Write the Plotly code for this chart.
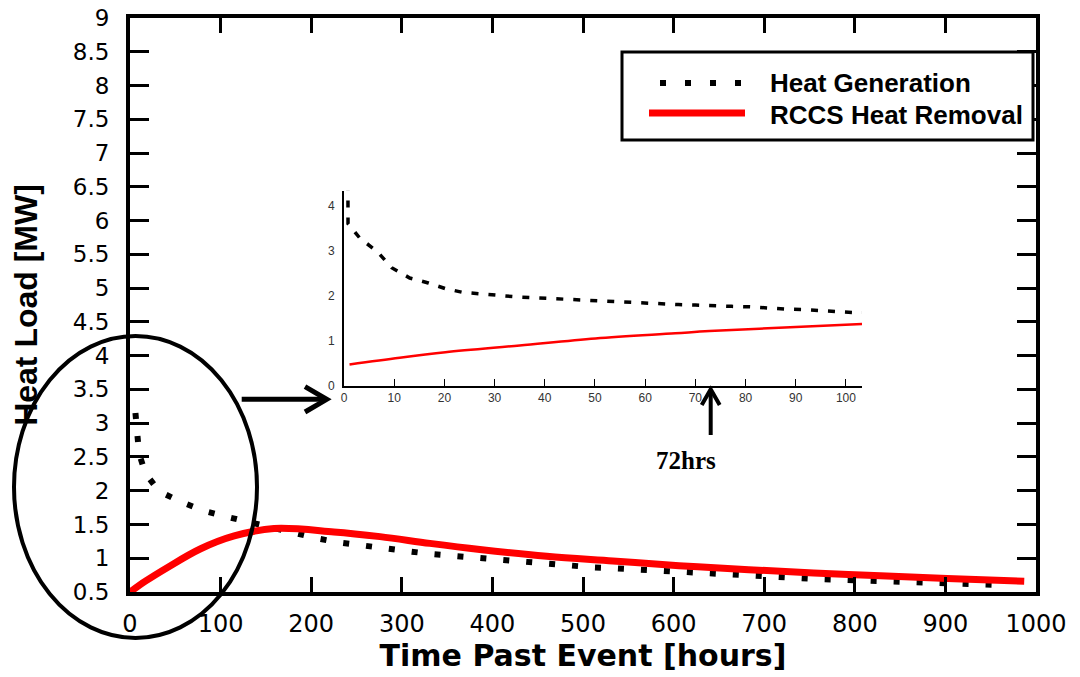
import plotly.graph_objects as go

# ---------------- data ----------------
# main chart: decay heat generation (dotted black)
hg_t = [6, 8, 10, 17, 32, 57, 82, 108, 133, 158, 183, 208, 233, 258, 284, 309,
        334, 359, 385, 410, 436, 460, 485, 511, 536, 561, 586, 611, 636, 661,
        686, 712, 737, 762, 787, 812, 838, 863, 888, 913, 939, 966]
hg_mw = [3.15, 2.85, 2.55, 2.26, 1.99, 1.83, 1.70, 1.61, 1.53, 1.45, 1.36, 1.29,
         1.23, 1.18, 1.14, 1.10, 1.06, 1.03, 1.00, 0.97, 0.94, 0.91, 0.89, 0.865,
         0.85, 0.83, 0.81, 0.79, 0.77, 0.75, 0.73, 0.72, 0.70, 0.69, 0.68, 0.67,
         0.66, 0.65, 0.64, 0.63, 0.62, 0.60]

# main chart: RCCS heat removal (red)
rr_t = [0, 17, 41, 78, 115, 159, 225, 276, 331, 386, 460, 533, 606, 683, 793, 902, 987]
rr_mw = [0.5, 0.66, 0.86, 1.14, 1.33, 1.44, 1.39, 1.32, 1.22, 1.13, 1.03, 0.96,
         0.89, 0.83, 0.76, 0.70, 0.66]

# inset chart: first ~100 hours
ins_hg_t = [0.78, 0.8, 3.2, 6.6, 9.5, 13.1, 16.8, 20.3, 23.7, 27.3, 30.8, 34.4, 38.1,
            41.6, 45.1, 48.8, 52.2, 55.7, 59.4, 62.9, 66.6, 70.0, 73.6, 77.2, 80.8,
            84.4, 88.0, 91.6, 95.0, 98.7, 102.2, 103.2]
ins_hg_mw = [4.5, 3.61, 3.28, 2.99, 2.63, 2.40, 2.29, 2.16, 2.08, 2.04, 2.01, 1.98,
             1.96, 1.94, 1.92, 1.90, 1.88, 1.86, 1.85, 1.83, 1.81, 1.80, 1.78, 1.77,
             1.76, 1.73, 1.71, 1.70, 1.67, 1.65, 1.63, 1.63]
ins_rr_t = [1.1, 11.1, 20.2, 35, 50.1, 66, 72.8, 87.8, 103.2]
ins_rr_mw = [0.48, 0.63, 0.75, 0.90, 1.055, 1.17, 1.22, 1.30, 1.38]

x_ticks = [0, 100, 200, 300, 400, 500, 600, 700, 800, 900, 1000]
y_ticks = [0.5, 1, 1.5, 2, 2.5, 3, 3.5, 4, 4.5, 5, 5.5, 6, 6.5, 7, 7.5, 8, 8.5, 9]
ins_x_ticks = [0, 10, 20, 30, 40, 50, 60, 70, 80, 90, 100]
ins_y_ticks = [0, 1, 2, 3, 4]

legend_names = ["Heat Generation", "RCCS Heat Removal"]
marker_label = "72hrs"

# ---------------- layout geometry (screen pixels) ----------------
FIG_W, FIG_H = 1080, 677
L, R, T, B = 130, 1036, 18, 592   # plot area in screen pixels


def px(x):
    return (x - L) / (R - L)


def py(y):
    return (B - y) / (B - T)


SANS = "Liberation Sans, Arial, sans-serif"
TICKF = "DejaVu Sans, Liberation Sans, sans-serif"
SERIF = "Liberation Serif, Times New Roman, serif"

fig = go.Figure()

fig.add_trace(go.Scatter(x=hg_t, y=hg_mw, mode="lines", name=legend_names[0],
                         line=dict(color="black", width=6, dash="6px,17px"),
                         showlegend=False, xaxis="x", yaxis="y"))
fig.add_trace(go.Scatter(x=rr_t, y=rr_mw, mode="lines", name=legend_names[1],
                         line=dict(color="#ff0000", width=7, shape="spline"),
                         showlegend=False, xaxis="x", yaxis="y"))
fig.add_trace(go.Scatter(x=ins_hg_t, y=ins_hg_mw, mode="lines", name=legend_names[0],
                         line=dict(color="black", width=3.5, dash="7px,10px"),
                         showlegend=False, xaxis="x2", yaxis="y2"))
fig.add_trace(go.Scatter(x=ins_rr_t, y=ins_rr_mw, mode="lines", name=legend_names[1],
                         line=dict(color="#ff0000", width=2.5, shape="spline"),
                         showlegend=False, xaxis="x2", yaxis="y2"))

ins_dom_x = [px(344), px(862)]
ins_dom_y = [py(386), py(190.7)]

fig.update_layout(
    width=FIG_W, height=FIG_H,
    margin=dict(l=L, r=FIG_W - R, t=T, b=FIG_H - B, pad=0),
    paper_bgcolor="white", plot_bgcolor="white",
    showlegend=False,
    font=dict(family=SANS, color="black"),
    xaxis=dict(
        range=[0, 1000], tickvals=x_ticks, ticks="inside", ticklen=15, tickwidth=3,
        tickcolor="black", showline=True, linecolor="black", linewidth=4,
        mirror="ticks", showgrid=False, zeroline=False,
        tickfont=dict(family=TICKF, size=24, color="black"),
        ticklabelstandoff=7, ticklabeloverflow="allow",
        title=dict(text="<b>Time Past Event [hours]</b>",
                   font=dict(family="DejaVu Sans, Liberation Sans, sans-serif",
                             size=30, color="black"), standoff=3),
        automargin=False,
    ),
    yaxis=dict(
        range=[0.5, 9], tickvals=y_ticks, ticks="inside", ticklen=19, tickwidth=3,
        tickcolor="black", showline=True, linecolor="black", linewidth=4,
        mirror="ticks", showgrid=False, zeroline=False,
        tickfont=dict(family=TICKF, size=23, color="black"),
        ticklabelstandoff=12, ticklabeloverflow="allow",
        title=dict(text="<b>Heat Load [MW]</b>",
                   font=dict(family=SANS, size=32, color="black"), standoff=27),
        automargin=False,
    ),
    xaxis2=dict(
        domain=ins_dom_x, anchor="y2", range=[0, 103.2], tickvals=ins_x_ticks,
        ticks="inside", ticklen=7, tickwidth=1, tickcolor="black",
        showline=True, linecolor="black", linewidth=2, showgrid=False, zeroline=False,
        tickfont=dict(family=SANS, size=12, color="#333333"), automargin=False,
    ),
    yaxis2=dict(
        domain=ins_dom_y, anchor="x2", range=[0, 4.34], tickvals=ins_y_ticks,
        ticks="", showline=True, linecolor="black", linewidth=2, showgrid=False,
        zeroline=False, tickfont=dict(family=SANS, size=12, color="#333333"),
        ticklabelstandoff=5, automargin=False,
    ),
)

shapes = []
# ellipse highlighting the early period
shapes.append(dict(type="circle", xref="paper", yref="paper",
                   x0=px(14), x1=px(257), y0=py(638), y1=py(336),
                   line=dict(color="black", width=4)))
# arrow from ellipse to inset
shapes.append(dict(type="path", xref="paper", yref="paper",
                   path=f"M {px(241.7)},{py(399.3)} L {px(323)},{py(399.3)}",
                   line=dict(color="black", width=5)))
shapes.append(dict(type="path", xref="paper", yref="paper",
                   path=(f"M {px(305)},{py(386.7)} L {px(326.7)},{py(399.3)} "
                         f"L {px(305)},{py(412)}"),
                   line=dict(color="black", width=5)))
# 72 hrs arrow
shapes.append(dict(type="path", xref="paper", yref="paper",
                   path=f"M {px(710.7)},{py(435)} L {px(710.7)},{py(391)}",
                   line=dict(color="black", width=4)))
shapes.append(dict(type="path", xref="paper", yref="paper",
                   path=(f"M {px(701.7)},{py(405)} L {px(710.7)},{py(389.3)} "
                         f"L {px(719.7)},{py(405)}"),
                   line=dict(color="black", width=4)))
# legend box
shapes.append(dict(type="rect", xref="paper", yref="paper",
                   x0=px(622), x1=px(1033), y0=py(140), y1=py(52),
                   line=dict(color="black", width=3), fillcolor="white"))
shapes.append(dict(type="line", xref="paper", yref="paper",
                   x0=px(660), x1=px(741), y0=py(83), y1=py(83),
                   line=dict(color="black", width=6, dash="6px,19px")))
shapes.append(dict(type="line", xref="paper", yref="paper",
                   x0=px(649), x1=px(745), y0=py(113), y1=py(113),
                   line=dict(color="#ff0000", width=7)))
fig.update_layout(shapes=shapes)

annotations = [
    dict(xref="paper", yref="paper", x=px(768), y=py(83), xanchor="left",
         yanchor="middle", showarrow=False, text="<b>" + legend_names[0] + "</b>",
         font=dict(family=SANS, size=26, color="black")),
    dict(xref="paper", yref="paper", x=px(768), y=py(115), xanchor="left",
         yanchor="middle", showarrow=False, text="<b>" + legend_names[1] + "</b>",
         font=dict(family=SANS, size=26, color="black")),
    dict(xref="paper", yref="paper", x=px(686), y=py(460), xanchor="center",
         yanchor="middle", showarrow=False, text="<b>" + marker_label + "</b>",
         font=dict(family=SERIF, size=25, color="black")),
]
fig.update_layout(annotations=annotations)

fig.write_html("out.html",
               config={"displayModeBar": False},
               post_script="document.body.style.margin='0';"
                           "document.body.style.overflow='hidden';")
